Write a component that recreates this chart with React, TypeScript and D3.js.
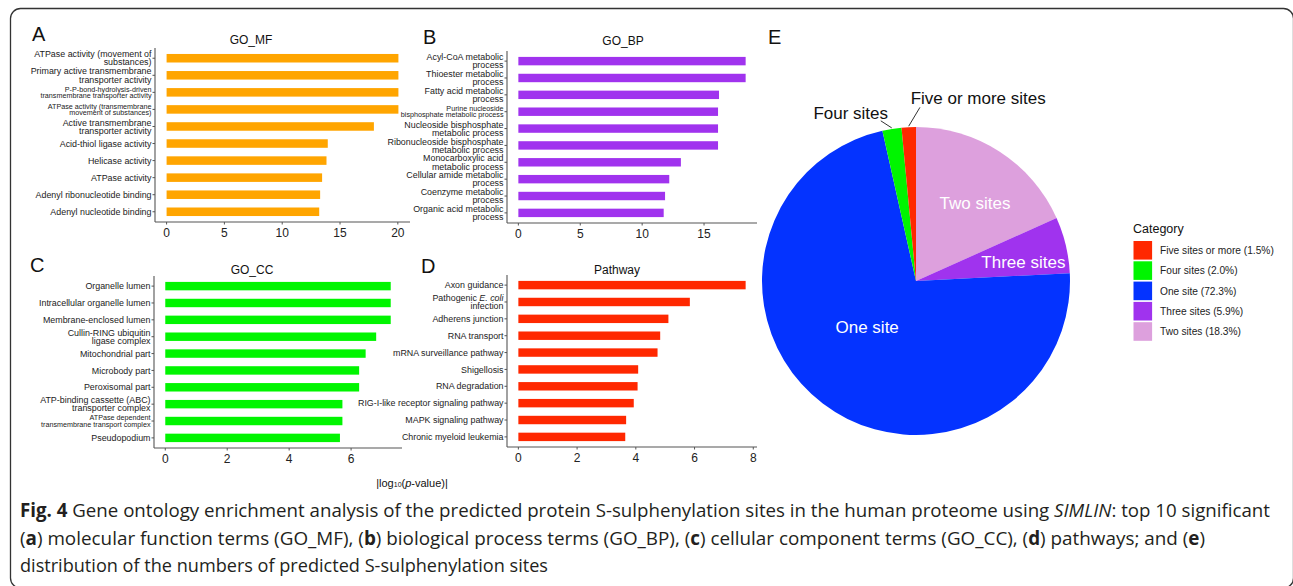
import * as d3 from "d3";
import React from "react";

// ---- data ----
const mfTerms = [
  "ATPase activity (movement of\nsubstances)",
  "Primary active transmembrane\ntransporter activity",
  "P-P-bond-hydrolysis-driven\ntransmembrane transporter activity",
  "ATPase activity (transmembrane\nmovement of substances)",
  "Active transmembrane\ntransporter activity",
  "Acid-thiol ligase activity",
  "Helicase activity",
  "ATPase activity",
  "Adenyl ribonucleotide binding",
  "Adenyl nucleotide binding",
];
const mfValues = [20.05, 20.05, 20.05, 20.05, 17.93, 13.94, 13.83, 13.45, 13.28, 13.2];

const bpTerms = [
  "Acyl-CoA metabolic\nprocess",
  "Thioester metabolic\nprocess",
  "Fatty acid metabolic\nprocess",
  "Purine nucleoside\nbisphosphate metabolic process",
  "Nucleoside bisphosphate\nmetabolic process",
  "Ribonucleoside bisphosphate\nmetabolic process",
  "Monocarboxylic acid\nmetabolic process",
  "Cellular amide metabolic\nprocess",
  "Coenzyme metabolic\nprocess",
  "Organic acid metabolic\nprocess",
];
const bpValues = [18.36, 18.36, 16.21, 16.13, 16.13, 16.13, 13.13, 12.19, 11.85, 11.74];

const ccTerms = [
  "Organelle lumen",
  "Intracellular organelle lumen",
  "Membrane-enclosed lumen",
  "Cullin-RING ubiquitin\nligase complex",
  "Mitochondrial part",
  "Microbody part",
  "Peroxisomal part",
  "ATP-binding cassette (ABC)\ntransporter complex",
  "ATPase dependent\ntransmembrane transport complex",
  "Pseudopodium",
];
const ccValues = [7.28, 7.28, 7.28, 6.81, 6.47, 6.26, 6.26, 5.72, 5.72, 5.64];

const pathwayTerms = [
  "Axon guidance",
  "Pathogenic *E. coli*\ninfection",
  "Adherens junction",
  "RNA transport",
  "mRNA surveillance pathway",
  "Shigellosis",
  "RNA degradation",
  "RIG-I-like receptor signaling pathway",
  "MAPK signaling pathway",
  "Chronic myeloid leukemia",
];
const pathwayValues = [7.74, 5.84, 5.11, 4.83, 4.74, 4.08, 4.06, 3.93, 3.67, 3.64];

const mfTicks = [0, 5, 10, 15, 20];
const bpTicks = [0, 5, 10, 15];
const ccTicks = [0, 2, 4, 6];
const pathwayTicks = [0, 2, 4, 6, 8];

// terms printed in a smaller font in the original
const smallTerms = [
  "P-P-bond-hydrolysis-driven\ntransmembrane transporter activity",
  "ATPase activity (transmembrane\nmovement of substances)",
  "Purine nucleoside\nbisphosphate metabolic process",
  "ATPase dependent\ntransmembrane transport complex",
];

const siteCategories = ["Five sites or more", "Four sites", "One site", "Three sites", "Two sites"];
const sitePercents = [1.5, 2.0, 72.3, 5.9, 18.3];
const siteLabels = ["Five or more sites", "Four sites", "One site", "Three sites", "Two sites"];
const siteColors = ["#FF2800", "#00F500", "#0433FF", "#A033EE", "#DDA0DD"];

const W = 1293;
const H = 586;
const FONT = "'Liberation Sans', Arial, Helvetica, sans-serif";

function richLine(line: string) {
  // *text* -> italic
  const parts = line.split("*");
  return parts.map((p, i) =>
    i % 2 === 1 ? <tspan key={i} fontStyle="italic">{p}</tspan> : <tspan key={i}>{p}</tspan>
  );
}

type Layout = {
  left: number; right: number; top: number; bottom: number;
  titleX: number; titleY: number; letterX: number; letterY: number;
};

function BarPanel({ terms, values, ticks, color, title, letter, lay }: {
  terms: string[]; values: number[]; ticks: number[]; color: string;
  title: string; letter: string; lay: Layout;
}) {
  const max = d3.max(values) as number;
  const x = d3.scaleLinear().domain([-max * 0.05, max * 1.05]).range([lay.left, lay.right]);
  const y = d3.scaleBand<string>().domain(terms).range([lay.top, lay.bottom])
    .paddingInner(0.5).paddingOuter(0.35);
  const bw = y.bandwidth();
  return (
    <g fontFamily={FONT}>
      <text x={lay.letterX} y={lay.letterY} fontSize={20} fill="#111">{letter}</text>
      <text x={lay.titleX} y={lay.titleY} fontSize={12} textAnchor="middle" fill="#111">{title}</text>
      {terms.map((t, i) => (
        <rect key={t} x={x(0)} y={y(t)} width={x(values[i]) - x(0)} height={bw} fill={color} />
      ))}
      {/* y axis */}
      <line x1={lay.left} x2={lay.left} y1={lay.top} y2={lay.bottom} stroke="#555" strokeWidth={1.1} />
      {terms.map((t) => {
        const cy = (y(t) as number) + bw / 2;
        const small = smallTerms.includes(t);
        const fs = small ? 7.2 : 8.9;
        const lh = small ? 6.4 : 8.1;
        const lines = t.split("\n");
        const y0 = cy - ((lines.length - 1) * lh) / 2 + fs * 0.36;
        return (
          <g key={t}>
            <line x1={lay.left - 2.5} x2={lay.left} y1={cy} y2={cy} stroke="#555" strokeWidth={1} />
            <text textAnchor="end" fontSize={fs} fill="#222">
              {lines.map((ln, k) => (
                <tspan key={k} x={lay.left - 3.5} y={y0 + k * lh}>{richLine(ln)}</tspan>
              ))}
            </text>
          </g>
        );
      })}
      {/* x axis */}
      <line x1={lay.left} x2={lay.right} y1={lay.bottom} y2={lay.bottom} stroke="#555" strokeWidth={1.1} />
      {ticks.map((v) => (
        <g key={v}>
          <line x1={x(v)} x2={x(v)} y1={lay.bottom} y2={lay.bottom + 2.5} stroke="#555" strokeWidth={1} />
          <text x={x(v)} y={lay.bottom + 14.5} fontSize={12} textAnchor="middle" fill="#222">{v}</text>
        </g>
      ))}
    </g>
  );
}

function PiePanel() {
  const cx = 916;
  const cy = 281;
  const r = 154;
  const order = [4, 3, 2, 1, 0]; // clockwise from 12 o'clock
  const slices = order.map((i) => ({
    name: siteCategories[i], label: siteLabels[i], value: sitePercents[i], color: siteColors[i],
  }));
  const arcs = d3.pie<typeof slices[0]>().sort(null).value((d) => d.value)(slices);
  const arc = d3.arc<d3.PieArcDatum<typeof slices[0]>>().innerRadius(0).outerRadius(r);
  const polar = (deg: number, rad: number): [number, number] => {
    const a = (deg * Math.PI) / 180;
    return [cx + rad * Math.sin(a), cy - rad * Math.cos(a)];
  };
  // label placement (angle in degrees clockwise from top, radius)
  const place: Record<string, { a: number; r: number; inside: boolean; lead?: [number, number] }> = {
    "Two sites": { a: 37, r: 98, inside: true },
    "Three sites": { a: 80, r: 109, inside: true },
    "One site": { a: 226.8, r: 67, inside: true },
    "Four sites": { a: -21.2, r: 180.5, inside: false, lead: [-12.4, 164] },
    "Five or more sites": { a: 18.8, r: 193, inside: false, lead: [1.3, 173.7] },
  };
  return (
    <g fontFamily={FONT}>
      <text x={768} y={44} fontSize={20} fill="#111">E</text>
      <g transform={`translate(${cx},${cy})`}>
        {arcs.map((a) => (
          <path key={a.data.name} d={arc(a) as string} fill={a.data.color} />
        ))}
      </g>
      {arcs.map((a) => {
        const p = place[a.data.label];
        const [tx, ty] = polar(p.a, p.r);
        const mid = ((a.startAngle + a.endAngle) / 2) * 180 / Math.PI;
        let lead = null;
        if (p.lead) {
          const [x1, y1] = polar(p.lead[0], p.lead[1]);
          const [x2, y2] = polar(mid, r + 1);
          lead = <line x1={x1} y1={y1} x2={x2} y2={y2} stroke="#333" strokeWidth={1} />;
        }
        return (
          <g key={a.data.label}>
            {lead}
            <text x={tx} y={ty} dy="0.36em" textAnchor="middle" fontSize={17}
              fill={p.inside ? "#fff" : "#111"}>{a.data.label}</text>
          </g>
        );
      })}
      {/* legend */}
      <text x={1133} y={232.5} fontSize={12.5} fill="#111">Category</text>
      {siteCategories.map((c, i) => (
        <g key={c}>
          <rect x={1133.5} y={241 + i * 20.3} width={18.6} height={18.6} fill={siteColors[i]} />
          <text x={1160} y={241 + i * 20.3 + 9.3} dy="0.36em" fontSize={10.2} fill="#222">
            {`${c} (${sitePercents[i].toFixed(1)}%)`}
          </text>
        </g>
      ))}
    </g>
  );
}

export default function App() {
  return (
    <div style={{ width: W, height: H }}>
      <style>{`body{margin:0;background:#fff}`}</style>
      <svg width={W} height={H} viewBox={`0 0 ${W} ${H}`} style={{ display: "block" }}>
        <rect width={W} height={H} fill="#fff" />
        <rect x={10.5} y={8.5} width={1283} height={579.5} rx={10} fill="none" stroke="#333" strokeWidth={1.3} />
        <BarPanel terms={mfTerms} values={mfValues} ticks={mfTicks} color="#FFA500" title="GO_MF" letter="A"
          lay={{ left: 155, right: 410, top: 48, bottom: 222, titleX: 251, titleY: 43.5, letterX: 32, letterY: 41 }} />
        <BarPanel terms={bpTerms} values={bpValues} ticks={bpTicks} color="#A033EE" title="GO_BP" letter="B"
          lay={{ left: 507, right: 757, top: 51, bottom: 223, titleX: 623, titleY: 44.5, letterX: 423, letterY: 44 }} />
        <BarPanel terms={ccTerms} values={ccValues} ticks={ccTicks} color="#00F500" title="GO_CC" letter="C"
          lay={{ left: 154, right: 402, top: 276, bottom: 448, titleX: 252, titleY: 273.5, letterX: 30, letterY: 272 }} />
        <BarPanel terms={pathwayTerms} values={pathwayValues} ticks={pathwayTicks} color="#FF2800" title="Pathway" letter="D"
          lay={{ left: 507, right: 757, top: 275, bottom: 447, titleX: 617, titleY: 273.5, letterX: 421, letterY: 272.5 }} />
        <text x={412} y={487} fontSize={11} textAnchor="middle" fontFamily={FONT} fill="#111">
          |log<tspan fontSize={7}>10</tspan>(<tspan fontStyle="italic">p</tspan>-value)|
        </text>
        <PiePanel />
        {/* caption */}
        <g fontFamily="'Open Sans', sans-serif" fontSize={19} fill="#231F20">
          <text x={20} y={517} textLength={1250} lengthAdjust="spacingAndGlyphs">
            <tspan fontWeight="bold">Fig. 4</tspan>
            {" Gene ontology enrichment analysis of the predicted protein S-sulphenylation sites in the human proteome using "}
            <tspan fontStyle="italic">SIMLIN</tspan>
            {": top 10 significant"}
          </text>
          <text x={20} y={545} textLength={1185} lengthAdjust="spacingAndGlyphs">
            {"("}<tspan fontWeight="bold">a</tspan>{") molecular function terms (GO_MF), ("}
            <tspan fontWeight="bold">b</tspan>{") biological process terms (GO_BP), ("}
            <tspan fontWeight="bold">c</tspan>{") cellular component terms (GO_CC), ("}
            <tspan fontWeight="bold">d</tspan>{") pathways; and ("}
            <tspan fontWeight="bold">e</tspan>{")"}
          </text>
          <text x={20} y={572} textLength={528} lengthAdjust="spacingAndGlyphs">
            distribution of the numbers of predicted S-sulphenylation sites
          </text>
        </g>
      </svg>
    </div>
  );
}
